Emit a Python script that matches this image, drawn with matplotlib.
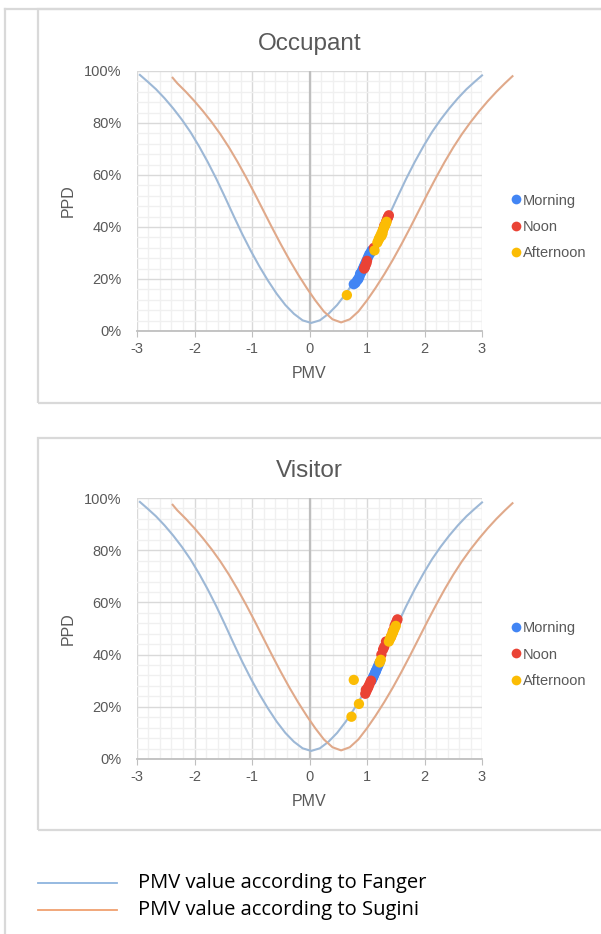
import matplotlib.pyplot as plt
from matplotlib.lines import Line2D
from matplotlib.patches import Rectangle
from matplotlib.ticker import MultipleLocator, FuncFormatter

# PPD curves (PMV, PPD %)
fanger_pmv = [-2.95, -2.82, -2.67, -2.52, -2.37, -2.22, -2.07, -1.92, -1.77, -1.62, -1.47,
              -1.32, -1.17, -1.02, -0.87, -0.72, -0.57, -0.42, -0.27, -0.12, 0.03,
              0.18, 0.33, 0.48, 0.63, 0.78, 0.93, 1.08, 1.23, 1.38, 1.53,
              1.68, 1.83, 1.98, 2.13, 2.28, 2.43, 2.58, 2.73, 2.88, 3.0]
fanger_ppd = [98.5, 96, 93, 89.5, 85.6, 81.3, 76.5, 71, 65, 58.5, 51.5,
              44.3, 37.3, 30.8, 24.8, 19.3, 14.3, 10, 6.6, 4.1, 3.1,
              4.1, 6.6, 10, 14.3, 19.3, 24.8, 30.8, 37.3, 44.3, 51.5,
              58.5, 65, 71, 76.5, 81.3, 85.6, 89.5, 93, 96, 98.3]

sugini_pmv = [-2.38, -2.3, -2.15, -2.0, -1.85, -1.7, -1.55, -1.4, -1.25, -1.1, -0.95,
              -0.8, -0.65, -0.5, -0.35, -0.2, -0.05, 0.1, 0.25, 0.4, 0.55,
              0.7, 0.85, 1.0, 1.15, 1.3, 1.45, 1.6, 1.75, 1.9, 2.05,
              2.2, 2.35, 2.5, 2.65, 2.8, 2.95, 3.1, 3.25, 3.4, 3.53]
sugini_ppd = [97.4, 95.3, 92, 88.4, 84.5, 80.3, 75.7, 70.6, 65, 59, 52.7,
              46.2, 39.7, 33.4, 27.4, 21.8, 16.6, 11.8, 7.5, 4.5, 3.3,
              4.5, 7.5, 11.8, 16.6, 21.8, 27.4, 33.4, 39.7, 46.2, 52.7,
              59, 65, 70.6, 75.7, 80.3, 84.5, 88.4, 92, 95.3, 98]

# Occupant survey points
occ_morning_pmv = [0.77, 0.8, 0.83, 0.85, 0.87, 0.88, 0.9, 0.92, 0.94, 0.96, 0.98, 1.0,
                   1.02, 1.04, 1.06, 1.08]
occ_morning_ppd = [18, 18.5, 19.5, 20, 21, 22, 22.5, 23.5, 24.5, 25.5, 26.5, 27.5,
                   28.5, 29.5, 30, 31]
occ_noon_pmv = [0.95, 0.96, 0.97, 0.99, 1.0, 1.12, 1.28, 1.3, 1.33, 1.35, 1.36, 1.37, 1.38]
occ_noon_ppd = [24, 24.5, 25, 26, 27, 32, 39, 40.5, 42, 43, 43.5, 44, 44.5]
occ_after_pmv = [0.65, 1.13, 1.18, 1.2, 1.21, 1.22, 1.24, 1.25, 1.26, 1.27, 1.28, 1.3,
                 1.31, 1.32, 1.33, 1.34]
occ_after_ppd = [13.8, 31, 34, 35, 35.5, 36, 37, 36.5, 38, 37.5, 39, 40,
                 40.5, 41, 41.5, 42]

# Visitor survey points
vis_morning_pmv = [1.08, 1.1, 1.11, 1.12, 1.14, 1.15, 1.16, 1.18, 1.2, 1.22]
vis_morning_ppd = [30, 31, 31.5, 32, 33, 33.5, 34, 35, 36, 37]
vis_noon_pmv = [0.97, 0.98, 0.99, 1.01, 1.02, 1.03, 1.05, 1.07, 1.25, 1.28, 1.3, 1.33,
                1.42, 1.45, 1.48, 1.5, 1.52, 1.53]
vis_noon_ppd = [25, 26.5, 26, 27, 27.5, 28, 29, 30, 40, 42, 43, 45,
                47, 49, 51, 52, 53, 53.5]
vis_after_pmv = [0.73, 0.77, 0.86, 1.22, 1.24, 1.38, 1.4, 1.41, 1.42, 1.44, 1.45, 1.46,
                 1.48, 1.5]
vis_after_ppd = [16.2, 30.3, 21.1, 37, 38, 45, 46, 46.5, 47, 48, 48.5, 49,
                 50, 51]

period_names = ['Morning', 'Noon', 'Afternoon']
period_colors = ['#4285F4', '#EA4335', '#FBBC04']
fanger_color = '#9DB8D6'
sugini_color = '#E0A98A'
text_gray = '#595959'

plt.rcParams['font.family'] = ['Liberation Sans', 'DejaVu Sans']

fig = plt.figure(figsize=(6.01, 9.34), dpi=100)
W, H = 601, 934


def fx(px):
    return px / W


def fy(py):
    return 1 - py / H


# outer frame and chart boxes
frame_kw = dict(transform=fig.transFigure, color='#d9d9d9', lw=1.6)
fig.add_artist(Line2D([fx(5), fx(5)], [fy(9), 0], **frame_kw))
fig.add_artist(Line2D([fx(5), 1], [fy(9), fy(9)], **frame_kw))
for top, bottom in [(9, 403), (438, 830)]:
    fig.add_artist(Rectangle((fx(38), fy(bottom)), 1, fy(top) - fy(bottom),
                             transform=fig.transFigure, fill=False,
                             edgecolor='#d9d9d9', lw=1.6))


def draw_chart(top_px, bottom_px, title, series):
    ax = fig.add_axes([fx(137), fy(bottom_px), fx(482) - fx(137), fy(top_px) - fy(bottom_px)])
    ax.set_xlim(-3, 3)
    ax.set_ylim(0, 100)
    ax.xaxis.set_major_locator(MultipleLocator(1))
    ax.xaxis.set_minor_locator(MultipleLocator(0.2))
    ax.yaxis.set_major_locator(MultipleLocator(20))
    ax.yaxis.set_minor_locator(MultipleLocator(4))
    ax.grid(which='minor', color='#f0f0f0', lw=1.0)
    ax.grid(which='major', color='#d9d9d9', lw=1.0)
    ax.set_axisbelow(True)
    for side in ['top', 'right', 'left']:
        ax.spines[side].set_visible(False)
    ax.spines['bottom'].set_color('#bfbfbf')
    ax.spines['bottom'].set_linewidth(1.3)
    ax.axvline(0, color='#bfbfbf', lw=1.6, zorder=1)
    ax.tick_params(axis='x', which='major', length=4, color='#bfbfbf', labelsize=10.5,
                   labelcolor=text_gray, pad=4)
    ax.tick_params(axis='y', which='major', length=0, labelsize=10.5,
                   labelcolor=text_gray, pad=11)
    ax.tick_params(which='minor', length=0)
    ax.yaxis.set_major_formatter(FuncFormatter(lambda v, p: f'{v:.0f}%'))
    ax.xaxis.set_major_formatter(FuncFormatter(lambda v, p: f'{v:.0f}'))
    ax.set_xlabel('PMV', fontsize=11.5, color=text_gray, labelpad=7)
    ax.set_ylabel('PPD', fontsize=11.5, color=text_gray, labelpad=6)
    ax.set_title(title, fontsize=17.5, color=text_gray, pad=15)

    ax.plot(fanger_pmv, fanger_ppd, color=fanger_color, lw=1.5, clip_on=False, zorder=3)
    ax.plot(sugini_pmv, sugini_ppd, color=sugini_color, lw=1.5, clip_on=False, zorder=3)
    handles = []
    for (pmv, ppd), name, col in zip(series, period_names, period_colors):
        ax.scatter(pmv, ppd, s=55, color=col, edgecolors='none', zorder=4, clip_on=False)
        handles.append(Line2D([], [], ls='none', marker='o', markersize=7,
                              markerfacecolor=col, markeredgecolor='none', label=name))
    leg = ax.legend(handles=handles, loc='center left', bbox_to_anchor=(1.06, 0.40),
                    frameon=False, fontsize=10.5, handletextpad=0.0, labelspacing=0.85,
                    borderaxespad=0, handlelength=1.0)
    for t in leg.get_texts():
        t.set_color(text_gray)
    return ax


draw_chart(71, 331, 'Occupant',
           [(occ_morning_pmv, occ_morning_ppd), (occ_noon_pmv, occ_noon_ppd),
            (occ_after_pmv, occ_after_ppd)])
draw_chart(498, 759, 'Visitor',
           [(vis_morning_pmv, vis_morning_ppd), (vis_noon_pmv, vis_noon_ppd),
            (vis_after_pmv, vis_after_ppd)])

# bottom legend for the two curves
for y_px, col, label in [(883, '#8EB4DE', 'PMV value according to Fanger'),
                         (910, '#F0A070', 'PMV value according to Sugini')]:
    fig.add_artist(Line2D([fx(38), fx(117)], [fy(y_px), fy(y_px)], color=col, lw=1.3,
                          transform=fig.transFigure))
    fig.text(fx(138), fy(y_px), label, fontsize=14.5, color='#000000', va='center',
             ha='left', family=['Open Sans', 'DejaVu Sans'])

fig.savefig('out.png', dpi=100, facecolor='white')
